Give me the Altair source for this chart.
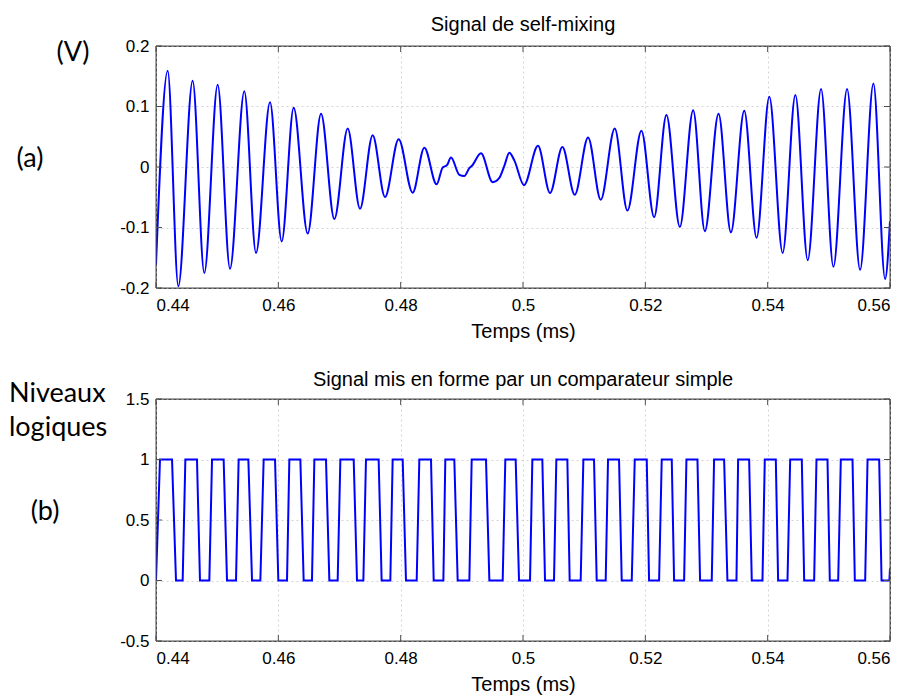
import altair as alt
import pandas as pd

# ---- data ----
sm_t = [0.44000, 0.44191, 0.44365, 0.44599, 0.44790, 0.45008, 0.45210, 0.45444, 0.45635, 0.45864,
        0.46055, 0.46251, 0.46480, 0.46698, 0.46916, 0.47134, 0.47335, 0.47542, 0.47744, 0.47967,
        0.48196, 0.48387, 0.48588, 0.48686, 0.48757, 0.48823, 0.48959, 0.49040, 0.49122, 0.49166,
        0.49313, 0.49504, 0.49613, 0.49695, 0.49777, 0.49858, 0.50016, 0.50245, 0.50442, 0.50644,
        0.50846, 0.51064, 0.51271, 0.51500, 0.51707, 0.51936, 0.52144, 0.52345, 0.52564, 0.52782,
        0.52973, 0.53197, 0.53399, 0.53617, 0.53819, 0.54027, 0.54245, 0.54453, 0.54655, 0.54873,
        0.55075, 0.55298, 0.55511, 0.55729, 0.55920, 0.56000]
sm_v = [-0.161, 0.159, -0.197, 0.1425, -0.175, 0.136, -0.168, 0.125, -0.142, 0.107,
        -0.123, 0.098, -0.110, 0.088, -0.086, 0.0635, -0.069, 0.0525, -0.0497, 0.0459,
        -0.0425, 0.032, -0.0287, -0.001, 0.003, 0.0155, -0.013, -0.015, -0.002, 0.002,
        0.0227, -0.025, -0.018, 0.002, 0.0235, 0.011, -0.030, 0.035, -0.043, 0.033,
        -0.046, 0.0486, -0.054, 0.0635, -0.072, 0.060, -0.083, 0.086, -0.099, 0.094,
        -0.106, 0.088, -0.108, 0.093, -0.117, 0.116, -0.142, 0.119, -0.154, 0.129,
        -0.165, 0.129, -0.170, 0.138, -0.185, -0.0895]

lg_t = [0.44000, 0.44065, 0.44262, 0.44327, 0.44436, 0.44480, 0.44670, 0.44719, 0.44872, 0.44916,
        0.45106, 0.45161, 0.45308, 0.45351, 0.45510, 0.45570, 0.45706, 0.45760, 0.45946, 0.46000,
        0.46142, 0.46180, 0.46360, 0.46414, 0.46550, 0.46589, 0.46779, 0.46834, 0.46970, 0.47014,
        0.47232, 0.47286, 0.47390, 0.47433, 0.47640, 0.47689, 0.47831, 0.47869, 0.48033, 0.48087,
        0.48262, 0.48305, 0.48496, 0.48540, 0.48698, 0.48730, 0.48877, 0.48932, 0.49123, 0.49161,
        0.49395, 0.49450, 0.49668, 0.49711, 0.49880, 0.49935, 0.50115, 0.50153, 0.50316, 0.50360,
        0.50507, 0.50545, 0.50725, 0.50763, 0.50943, 0.50987, 0.51161, 0.51205, 0.51352, 0.51390,
        0.51570, 0.51614, 0.51778, 0.51827, 0.52023, 0.52061, 0.52225, 0.52268, 0.52432, 0.52470,
        0.52634, 0.52672, 0.52852, 0.52895, 0.53086, 0.53124, 0.53288, 0.53342, 0.53490, 0.53517,
        0.53697, 0.53740, 0.53915, 0.53953, 0.54133, 0.54171, 0.54324, 0.54368, 0.54558, 0.54597,
        0.54760, 0.54798, 0.54978, 0.55016, 0.55153, 0.55196, 0.55387, 0.55425, 0.55594, 0.55633,
        0.55823, 0.55862, 0.55990, 0.56000]
lg_v = [0,
        1, 1, 0, 0, 1, 1, 0, 0, 1, 1, 0, 0, 1, 1, 0, 0, 1, 1, 0, 0, 1, 1, 0, 0, 1, 1, 0, 0,
        1, 1, 0, 0, 1, 1, 0, 0, 1, 1, 0, 0, 1, 1, 0, 0, 1, 1, 0, 0, 1, 1, 0, 0, 1, 1, 0, 0,
        1, 1, 0, 0, 1, 1, 0, 0, 1, 1, 0, 0, 1, 1, 0, 0, 1, 1, 0, 0, 1, 1, 0, 0, 1, 1, 0, 0,
        1, 1, 0, 0, 1, 1, 0, 0, 1, 1, 0, 0, 1, 1, 0, 0, 1, 1, 0, 0, 1, 1, 0, 0, 1, 1, 0, 0,
        0.1]

x_ticks = [0.44, 0.46, 0.48, 0.5, 0.52, 0.54, 0.56]
y1_ticks = [-0.2, -0.1, 0, 0.1, 0.2]
y2_ticks = [-0.5, 0, 0.5, 1, 1.5]

title_a = "Signal de self-mixing"
title_b = "Signal mis en forme par un comparateur simple"
x_title = "Temps (ms)"

# ---- styling ----
W, H = 734, 242
BLUE = "#0000ff"
FRAME = "#4d4d4d"
TICK = 6
AXFONT = "Liberation Sans"
NOTEFONT = "Lato"


def panel(t, v, yticks, ydom, title, interp, notes, title_y):
    df = pd.DataFrame({"t": t, "v": v})
    xs = alt.Scale(domain=[0.44, 0.56], nice=False, zero=False)
    ys = alt.Scale(domain=ydom, nice=False, zero=False)
    xaxis = alt.Axis(values=x_ticks, labelExpr="'' + datum.value", grid=True,
                     ticks=False, tickSize=0, domain=False, title=x_title,
                     labelPadding=9, titlePadding=8,
                     labelFont=AXFONT, labelFontSize=17, labelColor="black",
                     titleFont=AXFONT, titleFontSize=20, titleFontWeight="normal",
                     titleColor="black", gridColor="#d4d4d4", gridDash=[2, 3])
    yaxis = alt.Axis(values=yticks, labelExpr="'' + datum.value", grid=True,
                     ticks=False, tickSize=0, domain=False, title=None,
                     labelPadding=7,
                     labelFont=AXFONT, labelFontSize=17, labelColor="black",
                     gridColor="#d4d4d4", gridDash=[2, 3])
    xt = pd.DataFrame({"t": x_ticks})
    yt = pd.DataFrame({"v": yticks})
    frame = alt.Chart(pd.DataFrame({"k": [0]})).mark_rect(
        fillOpacity=0, stroke=FRAME, strokeWidth=1
    ).encode(x=alt.value(0), x2=alt.value(W), y=alt.value(0), y2=alt.value(H))
    tick_top = alt.Chart(xt).mark_rule(color=FRAME, strokeWidth=1).encode(
        x=alt.X("t:Q", scale=xs, axis=xaxis), y=alt.value(0), y2=alt.value(TICK))
    tick_bot = alt.Chart(xt).mark_rule(color=FRAME, strokeWidth=1).encode(
        x=alt.X("t:Q", scale=xs, axis=xaxis), y=alt.value(H - TICK), y2=alt.value(H))
    tick_left = alt.Chart(yt).mark_rule(color=FRAME, strokeWidth=1).encode(
        y=alt.Y("v:Q", scale=ys, axis=yaxis), x=alt.value(0), x2=alt.value(TICK))
    tick_right = alt.Chart(yt).mark_rule(color=FRAME, strokeWidth=1).encode(
        y=alt.Y("v:Q", scale=ys, axis=yaxis), x=alt.value(W - TICK), x2=alt.value(W))
    line = alt.Chart(df).mark_line(color=BLUE, strokeWidth=2, interpolate=interp,
                                   clip=True).encode(
        x=alt.X("t:Q", scale=xs, axis=xaxis),
        y=alt.Y("v:Q", scale=ys, axis=yaxis),
        order="t:Q",
    )
    ttl = alt.Chart(pd.DataFrame({"label": [title]})).mark_text(
        font=AXFONT, fontSize=20, color="black", align="center", baseline="alphabetic"
    ).encode(text="label:N", x=alt.value(W / 2), y=alt.value(title_y))
    layers = [line, frame, tick_top, tick_bot, tick_left, tick_right, ttl]
    for label, px, py, align, baseline in notes:
        layers.append(
            alt.Chart(pd.DataFrame({"label": [label]})).mark_text(
                font=NOTEFONT, fontSize=27, color="black", align=align, baseline=baseline
            ).encode(text="label:N", x=alt.value(px), y=alt.value(py))
        )
    return alt.layer(*layers).properties(
        width=W, height=H,
        view=alt.ViewBackground(stroke=FRAME, strokeWidth=1, fill="white"),
    )


top = panel(sm_t, sm_v, y1_ticks, [-0.2, 0.2], title_a, "monotone",
            [("(V)", -83, 7, "center", "middle"),
             ("(a)", -126, 113, "center", "middle")], -15)
bottom = panel(lg_t, lg_v, y2_ticks, [-0.5, 1.5], title_b, "linear",
               [("Niveaux", -147, 3, "left", "alphabetic"),
                ("logiques", -147, 37, "left", "alphabetic"),
                ("(b)", -111, 113, "center", "middle")], -13)

chart = alt.vconcat(top, bottom, spacing=27).properties(
    padding={"left": 0, "top": 6, "right": 5, "bottom": 0},
    background="white",
).configure_view(
    stroke=FRAME, strokeWidth=1
)

chart.save("out.html", embed_options={"renderer": "svg", "actions": False})
